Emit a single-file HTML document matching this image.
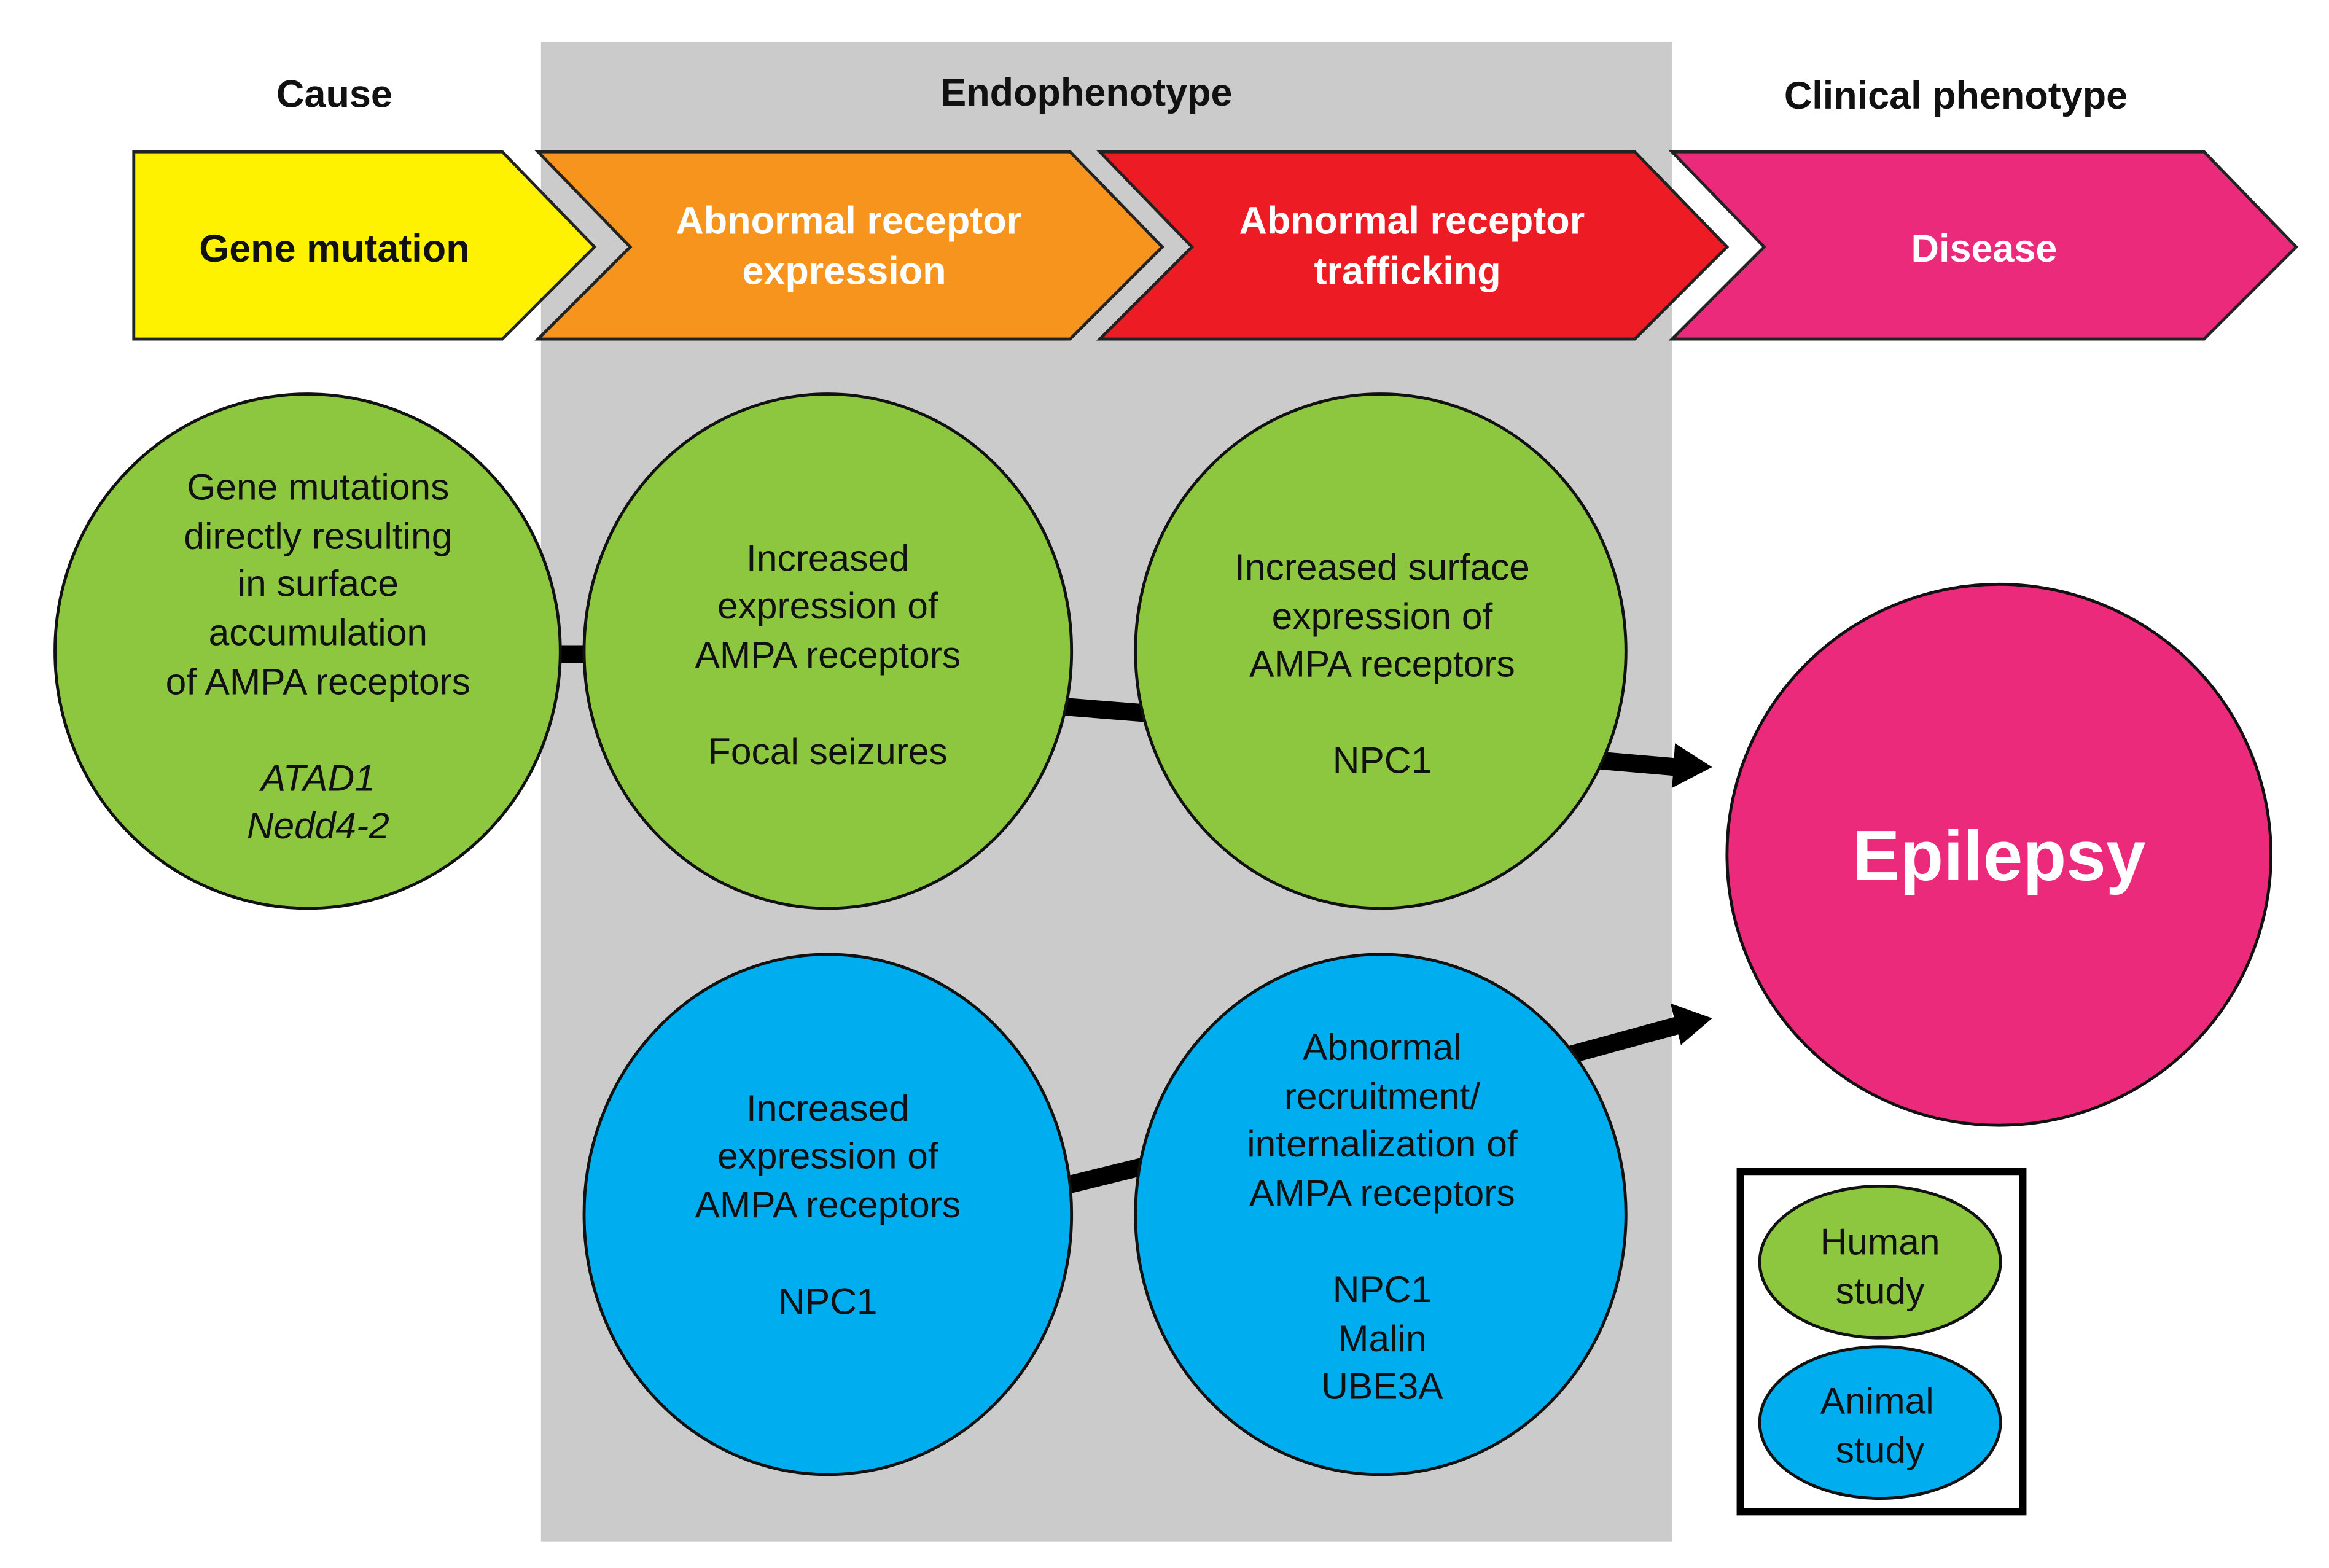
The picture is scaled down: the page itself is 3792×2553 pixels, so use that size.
<!DOCTYPE html>
<html><head><meta charset="utf-8"><style>
html,body{margin:0;padding:0;background:#fff}
svg{display:block}
text{font-family:"Liberation Sans",Arial,sans-serif}
</style></head><body>
<svg width="3792" height="2553" viewBox="0 0 1560 1050" xmlns="http://www.w3.org/2000/svg">
<g transform="scale(0.9955)">
<rect x="364" y="28" width="761" height="1009" fill="#cbcbcb"/>
<g font-weight="bold" font-size="26" text-anchor="middle" fill="#111">
<text x="225" y="72">Cause</text>
<text x="731" y="71">Endophenotype</text>
<text x="1316" y="73">Clinical phenotype</text>
</g>
<g stroke="#222" stroke-width="2">
<polygon points="90,102 338,102 400,166 338,228 90,228" fill="#fff200"/>
<polygon points="362,102 720,102 782,166 720,228 362,228 424,166" fill="#f7941d"/>
<polygon points="740,102 1100,102 1162,166 1100,228 740,228 802,166" fill="#ed1c24"/>
<polygon points="1125,102 1483,102 1545,166 1483,228 1125,228 1187,166" fill="#ec2a7b"/>
</g>
<g font-weight="bold" font-size="26" text-anchor="middle">
<text x="225" y="176" fill="#111">Gene mutation</text>
<text x="571" y="157" fill="#fff">Abnormal receptor</text>
<text x="568" y="191" fill="#fff">expression</text>
<text x="950" y="157" fill="#fff">Abnormal receptor</text>
<text x="947" y="191" fill="#fff">trafficking</text>
<text x="1335" y="176" fill="#fff">Disease</text>
</g>
<g stroke="#000" stroke-linecap="butt">
<line x1="370" y1="440" x2="400" y2="440" stroke-width="12"/>
<line x1="712" y1="475" x2="775" y2="480" stroke-width="12"/>
<line x1="1070" y1="511" x2="1128" y2="516" stroke-width="12"/>
<line x1="715" y1="798" x2="772" y2="784" stroke-width="12"/>
<line x1="1055" y1="710" x2="1128" y2="690" stroke-width="12"/>
</g>
<polygon points="1127,500 1152,516 1125,530" fill="#000"/>
<polygon points="1124,675 1152,685 1131,703" fill="#000"/>
<g stroke="#111" stroke-width="2">
<ellipse cx="207" cy="438" rx="170" ry="173" fill="#8dc63f"/>
<ellipse cx="557" cy="438" rx="164" ry="173" fill="#8dc63f"/>
<ellipse cx="929" cy="438" rx="165" ry="173" fill="#8dc63f"/>
<ellipse cx="557" cy="817" rx="164" ry="175" fill="#00aeef"/>
<ellipse cx="929" cy="817" rx="165" ry="175" fill="#00aeef"/>
<ellipse cx="1345" cy="575" rx="183" ry="182" fill="#ec2a7b"/>
</g>
<rect x="1171" y="788" width="190" height="229" fill="#fff" stroke="#000" stroke-width="5"/>
<g stroke="#111" stroke-width="2">
<ellipse cx="1265" cy="849" rx="81" ry="51" fill="#8dc63f"/>
<ellipse cx="1265" cy="957" rx="81" ry="51" fill="#00aeef"/>
</g>
<g font-size="25" text-anchor="middle" fill="#111">
<text x="214" y="336">Gene mutations</text>
<text x="214" y="369">directly resulting</text>
<text x="214" y="401">in surface</text>
<text x="214" y="434">accumulation</text>
<text x="214" y="467">of AMPA receptors</text>
<text x="214" y="532" font-style="italic">ATAD1</text>
<text x="214" y="564" font-style="italic">Nedd4-2</text>
<text x="557" y="384">Increased</text>
<text x="557" y="416">expression of</text>
<text x="557" y="449">AMPA receptors</text>
<text x="557" y="514">Focal seizures</text>
<text x="930" y="390">Increased surface</text>
<text x="930" y="423">expression of</text>
<text x="930" y="455">AMPA receptors</text>
<text x="930" y="520">NPC1</text>
<text x="557" y="754">Increased</text>
<text x="557" y="786">expression of</text>
<text x="557" y="819">AMPA receptors</text>
<text x="557" y="884">NPC1</text>
<text x="930" y="713">Abnormal</text>
<text x="930" y="746">recruitment/</text>
<text x="930" y="778">internalization of</text>
<text x="930" y="811">AMPA receptors</text>
<text x="930" y="876">NPC1</text>
<text x="930" y="909">Malin</text>
<text x="930" y="941">UBE3A</text>
<text x="1265" y="844">Human</text>
<text x="1265" y="877">study</text>
<text x="1263" y="951">Animal</text>
<text x="1265" y="984">study</text>
</g>
<text x="1345" y="592" font-size="48" font-weight="bold" text-anchor="middle" fill="#fff">Epilepsy</text>
</g>
</svg>
</body></html>
